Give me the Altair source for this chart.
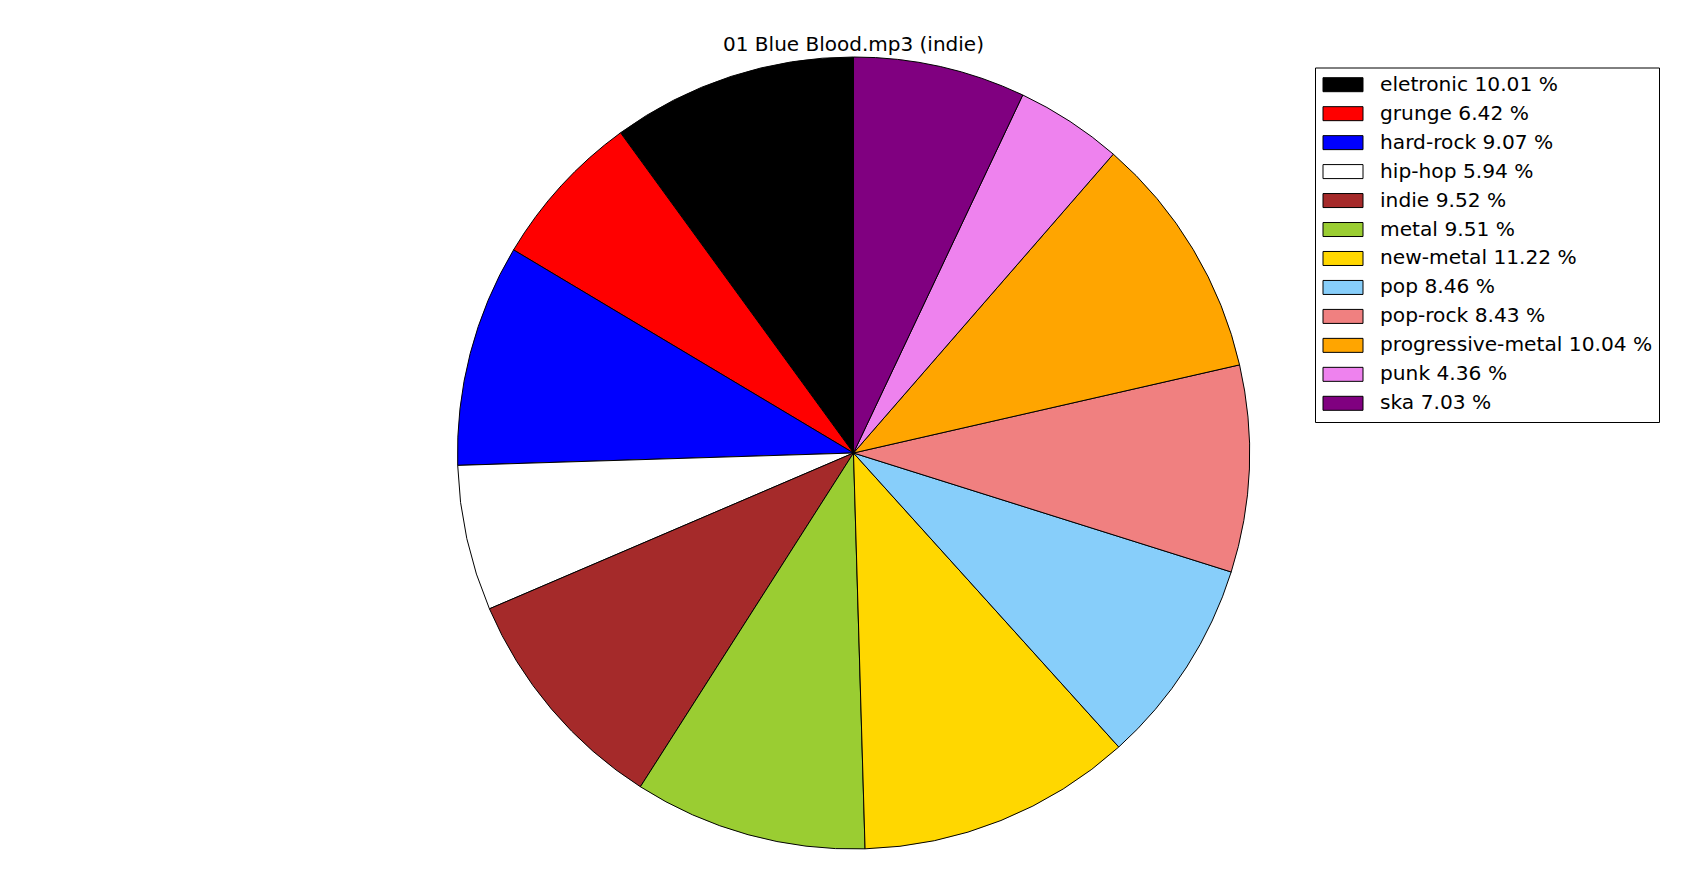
import altair as alt
import pandas as pd

genres = ["eletronic", "grunge", "hard-rock", "hip-hop", "indie", "metal",
          "new-metal", "pop", "pop-rock", "progressive-metal", "punk", "ska"]
percents = [10.01, 6.42, 9.07, 5.94, 9.52, 9.51, 11.22, 8.46, 8.43, 10.04, 4.36, 7.03]
colors = ["#000000", "#FF0000", "#0000FF", "#FFFFFF", "#A52A2A", "#9ACD32",
          "#FFD700", "#87CEFA", "#F08080", "#FFA500", "#EE82EE", "#800080"]
title_text = "01 Blue Blood.mp3 (indie)"

labels = [f"{g} {p:.2f} %" for g, p in zip(genres, percents)]
df = pd.DataFrame({"label": labels, "pct": percents, "idx": list(range(len(genres)))})

FONT = "DejaVu Sans"

color_enc = alt.Color("label:N", scale=alt.Scale(domain=labels, range=colors), legend=None)
legend_y = alt.Y("label:N", axis=None,
                 scale=alt.Scale(type="point", domain=labels, range=[76.7, 395.3], padding=0))

# legend frame
frame = alt.Chart(pd.DataFrame({"a": [0]})).mark_rect(
    fill="white", stroke="black", strokeWidth=1
).encode(
    x=alt.value(1307.5), x2=alt.value(1651.5),
    y=alt.value(60), y2=alt.value(414.5),
)

pie = alt.Chart(df).mark_arc(outerRadius=396, stroke="black", strokeWidth=1).encode(
    theta=alt.Theta("pct:Q", stack=True),
    order=alt.Order("idx:Q", sort="descending"),
    color=color_enc,
    x=alt.value(845.5),
    y=alt.value(445),
)

swatches = alt.Chart(df).mark_point(
    shape="M-1,-0.35L1,-0.35L1,0.35L-1,0.35Z", size=1600, filled=True,
    stroke="black", strokeWidth=1, opacity=1
).encode(
    x=alt.value(1335),
    y=legend_y,
    fill=alt.Fill("label:N", scale=alt.Scale(domain=labels, range=colors), legend=None),
)

legend_text = alt.Chart(df).mark_text(
    font=FONT, fontSize=20.2, color="black", align="left", baseline="middle"
).encode(
    x=alt.value(1372),
    y=legend_y,
    text="label:N",
)

title = alt.Chart(pd.DataFrame({"t": [title_text]})).mark_text(
    font=FONT, fontSize=20, color="black", baseline="alphabetic", align="center"
).encode(text="t:N", x=alt.value(845.5), y=alt.value(43))

chart = alt.layer(frame, pie, swatches, legend_text, title).properties(
    width=1691, height=860, autosize="none", padding=0
).configure_view(stroke=None)

chart.save("out.html", embed_options={"renderer": "svg", "actions": False})
